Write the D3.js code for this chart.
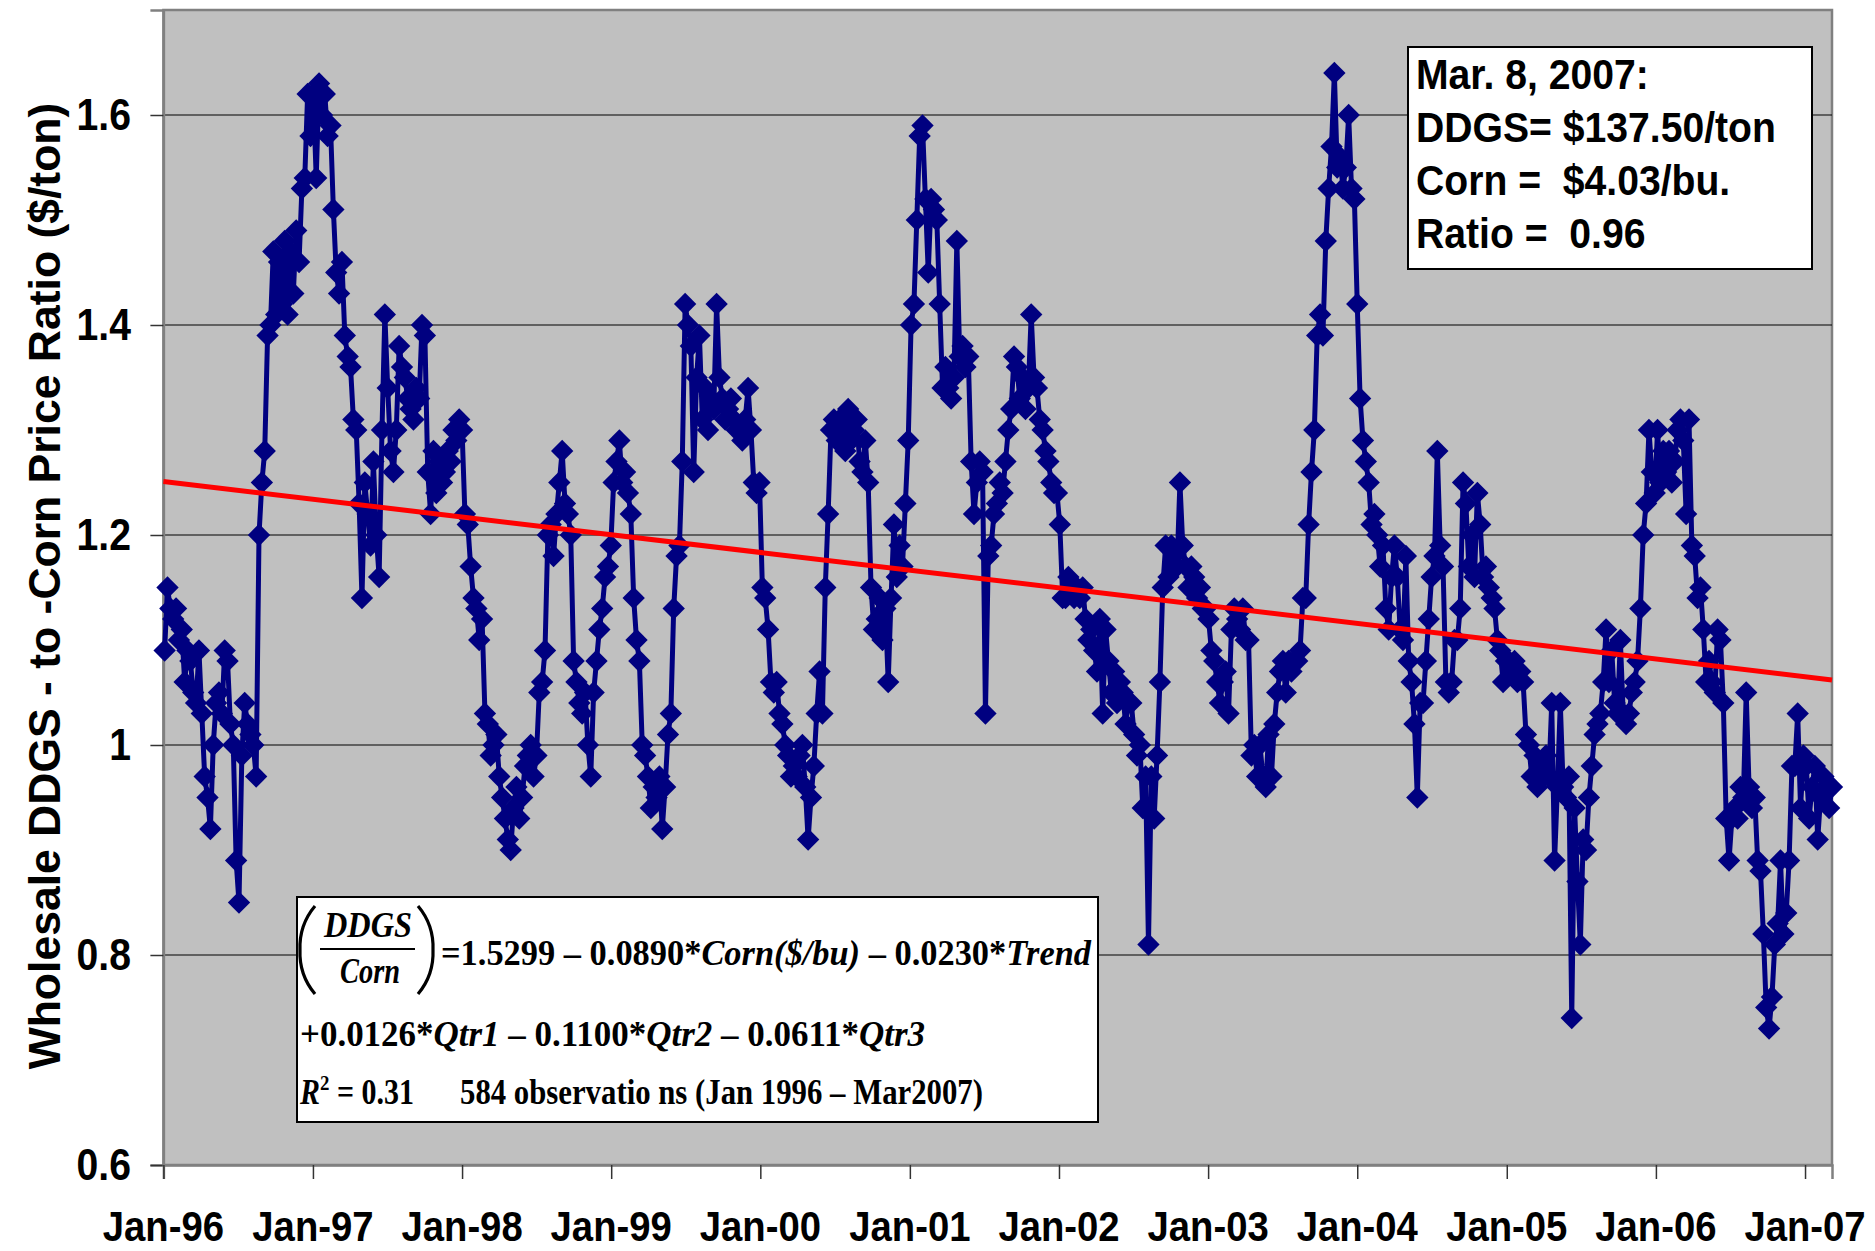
<!DOCTYPE html>
<html><head><meta charset="utf-8">
<script src="https://cdn.jsdelivr.net/npm/d3@7"></script>
<style>
body{margin:0;background:#fff}
svg{display:block}
text{font-family:"Liberation Sans",Arial,sans-serif;font-weight:bold;white-space:pre}
.eq{font-family:"Liberation Serif","Times New Roman",serif;font-weight:bold}
</style>
</head><body>
<svg id="chart" width="1875" height="1251"></svg>
<script>
// ---- data (weekly observations, Thursdays, Jan 4 1996 – Mar 8 2007) ----
const startDate = "1996-01-04";
const ratio1996 = [1.09,1.15,1.13,1.12,1.13,1.10,1.11,1.06,1.09,1.08,1.05,1.04,1.09,1.03,0.97,0.95,0.92,1.00,1.04,1.05,1.03,1.09,1.08,1.02,1.00,0.89,0.85,0.99,1.04,1.02,1.01,1.00,0.97,1.20,1.25,1.28,1.39,1.40,1.47,1.41,1.46,1.42,1.48,1.41,1.47,1.43,1.49,1.46,1.53,1.54,1.62,1.58];
const ratio1997 = [1.62,1.54,1.63,1.60,1.62,1.58,1.59,1.51,1.45,1.43,1.46,1.39,1.37,1.36,1.31,1.30,1.23,1.14,1.25,1.22,1.19,1.27,1.20,1.16,1.30,1.41,1.34,1.28,1.26,1.30,1.38,1.36,1.35,1.33,1.32,1.31,1.34,1.33,1.40,1.39,1.26,1.22,1.28,1.24,1.27,1.25,1.26,1.28,1.27,1.30,1.29,1.31];
const ratio1998 = [1.30,1.22,1.21,1.17,1.14,1.13,1.10,1.12,1.03,1.02,0.99,1.00,1.01,0.97,0.95,0.93,0.91,0.90,0.94,0.96,0.93,0.95,0.98,0.99,1.00,0.97,0.99,1.05,1.06,1.09,1.20,1.21,1.18,1.22,1.25,1.28,1.23,1.22,1.20,1.08,1.06,1.04,1.03,1.05,1.00,0.97,1.05,1.08,1.11,1.13,1.16,1.17,1.19];
const ratio1999 = [1.25,1.27,1.29,1.25,1.26,1.24,1.22,1.14,1.10,1.08,1.00,0.99,0.97,0.94,0.96,0.95,0.97,0.92,0.96,1.01,1.03,1.13,1.18,1.19,1.27,1.42,1.40,1.38,1.26,1.35,1.39,1.31,1.34,1.30,1.33,1.32,1.42,1.35,1.33,1.31,1.32,1.33,1.31,1.30,1.30,1.29,1.31,1.34,1.30,1.25,1.24,1.25];
const ratio2000 = [1.15,1.14,1.11,1.06,1.05,1.06,1.03,1.02,1.00,0.99,0.97,0.98,0.97,0.99,1.00,0.96,0.91,0.95,0.98,1.03,1.07,1.03,1.15,1.22,1.30,1.31,1.29,1.31,1.30,1.28,1.32,1.29,1.30,1.31,1.27,1.26,1.29,1.25,1.15,1.11,1.12,1.14,1.10,1.13,1.06,1.14,1.21,1.16,1.19,1.17,1.23,1.29];
const ratio2001 = [1.40,1.42,1.50,1.58,1.59,1.52,1.45,1.52,1.51,1.50,1.42,1.34,1.36,1.34,1.33,1.35,1.48,1.37,1.38,1.36,1.37,1.27,1.22,1.25,1.27,1.26,1.03,1.18,1.19,1.22,1.23,1.25,1.24,1.27,1.30,1.32,1.37,1.36,1.33,1.35,1.32,1.34,1.41,1.35,1.34,1.31,1.30,1.28,1.27,1.25,1.24,1.24];
const ratio2002 = [1.21,1.14,1.14,1.16,1.15,1.14,1.15,1.14,1.15,1.12,1.10,1.11,1.09,1.07,1.12,1.03,1.11,1.08,1.05,1.07,1.04,1.06,1.05,1.02,1.04,1.04,1.01,0.99,1.00,0.94,0.97,0.81,0.97,0.93,0.99,1.06,1.15,1.19,1.16,1.19,1.18,1.17,1.25,1.19,1.17,1.15,1.17,1.16,1.14,1.15,1.13,1.13];
const ratio2003 = [1.12,1.09,1.08,1.06,1.04,1.06,1.07,1.03,1.11,1.13,1.12,1.11,1.13,1.10,1.10,0.99,1.00,0.97,1.00,0.97,0.96,1.01,0.97,1.02,1.05,1.07,1.08,1.05,1.08,1.07,1.08,1.08,1.09,1.14,1.14,1.21,1.26,1.30,1.39,1.41,1.39,1.48,1.53,1.57,1.64,1.55,1.56,1.53,1.55,1.60,1.53,1.52];
const ratio2004 = [1.42,1.33,1.29,1.27,1.25,1.21,1.22,1.20,1.17,1.19,1.13,1.11,1.16,1.19,1.16,1.11,1.10,1.18,1.08,1.06,1.02,0.95,1.04,1.04,1.08,1.12,1.16,1.18,1.28,1.19,1.17,1.06,1.05,1.06,1.10,1.10,1.13,1.25,1.23,1.17,1.20,1.16,1.24,1.21,1.16,1.17,1.15,1.14,1.13,1.10,1.09,1.06,1.08];
const ratio2005 = [1.08,1.07,1.08,1.06,1.07,1.06,1.01,1.00,0.97,0.99,0.96,0.98,0.97,0.99,0.97,1.04,0.89,0.96,1.04,0.96,0.95,0.97,0.74,0.94,0.87,0.81,0.91,0.90,0.95,0.98,1.01,1.02,1.03,1.06,1.11,1.06,1.09,1.04,1.03,1.10,1.03,1.02,1.03,1.05,1.06,1.08,1.13,1.20,1.23,1.30,1.26,1.24];
const ratio2006 = [1.30,1.25,1.28,1.26,1.28,1.25,1.27,1.30,1.31,1.29,1.22,1.31,1.19,1.18,1.14,1.15,1.11,1.06,1.08,1.06,1.05,1.11,1.10,1.04,0.93,0.89,0.93,0.94,0.93,0.96,0.95,1.05,0.96,0.94,0.95,0.89,0.88,0.82,0.75,0.73,0.76,0.81,0.83,0.89,0.82,0.84,0.89,0.98,0.98,1.03,0.94,0.99];
const ratio2007 = [0.98,0.93,0.96,0.98,0.91,0.95,0.97,0.96,0.94,0.96];

const trendValues = [1.251, 1.062];          // linear trend at start and end of axis
const axisDates = ["1996-01-01", "2007-03-08"];
const yTicks = [0.6, 0.8, 1.0, 1.2, 1.4, 1.6];
const yTickLabels = ["0.6", "0.8", "1", "1.2", "1.4", "1.6"];
const xTickYears = [1996,1997,1998,1999,2000,2001,2002,2003,2004,2005,2006,2007];
const xTickLabels = ["Jan-96","Jan-97","Jan-98","Jan-99","Jan-00","Jan-01","Jan-02","Jan-03","Jan-04","Jan-05","Jan-06","Jan-07"];
const yTitle = "Wholesale DDGS - to -Corn Price Ratio ($/ton)";
const infoLines = ["Mar. 8, 2007:", "DDGS= $137.50/ton", "Corn =  $4.03/bu.", "Ratio =  0.96"];

// ---- build ----
const values = [].concat(ratio1996, ratio1997, ratio1998, ratio1999, ratio2000, ratio2001,
  ratio2002, ratio2003, ratio2004, ratio2005, ratio2006, ratio2007);
const parse = d3.utcParse("%Y-%m-%d");
const t0 = parse(startDate);
const data = values.map((v, i) => ({ date: d3.utcDay.offset(t0, 7 * i), v }));

const svg = d3.select("#chart");
const L = 163.4, R = 1832, T = 10, B = 1165;
const x = d3.scaleUtc().domain(axisDates.map(parse)).range([L, R]);
const y = d3.scaleLinear().domain([0.6, 1.7]).range([B, T]);

// plot area
svg.append("rect").attr("x", L).attr("y", T).attr("width", R - L).attr("height", B - T)
  .attr("fill", "#C0C0C0").attr("stroke", "#808080").attr("stroke-width", 2.5);

// gridlines
svg.append("g").selectAll("line").data(yTicks.filter(d => d > 0.6)).join("line")
  .attr("x1", L).attr("x2", R).attr("y1", d => y(d)).attr("y2", d => y(d))
  .attr("stroke", "#000").attr("stroke-width", 1.2);

// y axis
const yAxis = svg.append("g").attr("transform", `translate(${L},0)`)
  .call(d3.axisLeft(y).tickValues(yTicks).tickSize(13).tickFormat(""));
yAxis.select(".domain").attr("stroke", "#808080").attr("stroke-width", 2.5);
yAxis.selectAll(".tick line").attr("stroke", "#333").attr("stroke-width", 1.5);
svg.append("g").selectAll("text").data(yTicks).join("text")
  .attr("transform", d => `translate(131,${y(d) + 15}) scale(0.9,1)`)
  .attr("text-anchor", "end").attr("font-size", 43.5).attr("fill", "#000")
  .text((d, i) => yTickLabels[i]);

// x axis
const xTickDates = xTickYears.map(yr => new Date(Date.UTC(yr, 0, 1)));
const xAxis = svg.append("g").attr("transform", `translate(0,${B})`)
  .call(d3.axisBottom(x).tickValues(xTickDates).tickSize(14).tickFormat(""));
xAxis.select(".domain").attr("stroke", "#808080").attr("stroke-width", 2.5);
xAxis.selectAll(".tick line").attr("stroke", "#333").attr("stroke-width", 1.5);
svg.append("g").selectAll("text").data(xTickDates).join("text")
  .attr("transform", d => `translate(${x(d)},1241) scale(0.89,1)`)
  .attr("text-anchor", "middle").attr("font-size", 43).attr("fill", "#000")
  .text((d, i) => xTickLabels[i]);

// y title
svg.append("text").attr("transform", "translate(60,586) rotate(-90)")
  .attr("text-anchor", "middle").attr("font-size", 44.5).attr("fill", "#000").text(yTitle);

// series line
svg.append("path").datum(data)
  .attr("d", d3.line().x(d => x(d.date)).y(d => y(d.v)))
  .attr("fill", "none").attr("stroke", "#000080").attr("stroke-width", 5)
  .attr("stroke-linejoin", "round");

// diamond markers
const diamond = { draw(ctx, size) { const r = Math.sqrt(size / 2);
  ctx.moveTo(0, -r); ctx.lineTo(r, 0); ctx.lineTo(0, r); ctx.lineTo(-r, 0); ctx.closePath(); } };
svg.append("g").selectAll("path").data(data).join("path")
  .attr("d", d3.symbol().type(diamond).size(250))
  .attr("transform", d => `translate(${x(d.date)},${y(d.v)})`)
  .attr("fill", "#000080");

// trend line
svg.append("path").datum(axisDates.map((d, i) => ({ date: parse(d), v: trendValues[i] })))
  .attr("d", d3.line().x(d => x(d.date)).y(d => y(d.v)))
  .attr("fill", "none").attr("stroke", "#FF0000").attr("stroke-width", 5);

// info box
svg.append("rect").attr("x", 1408).attr("y", 47).attr("width", 404).attr("height", 222)
  .attr("fill", "#fff").attr("stroke", "#000").attr("stroke-width", 2);
const infoBase = [89, 142, 195, 248];
svg.append("g").selectAll("text").data(infoLines).join("text")
  .attr("transform", (d, i) => `translate(1416,${infoBase[i]}) scale(0.91,1)`)
  .attr("font-size", 43).attr("fill", "#000").text(d => d);

// equation box
const eq = svg.append("g");
eq.append("rect").attr("x", 297).attr("y", 897).attr("width", 801).attr("height", 225)
  .attr("fill", "#fff").attr("stroke", "#000").attr("stroke-width", 2);
// fraction
eq.append("text").attr("class", "eq").attr("x", 324).attr("y", 937).attr("font-size", 36)
  .attr("font-style", "italic").attr("textLength", 88).attr("lengthAdjust", "spacingAndGlyphs").text("DDGS");
eq.append("line").attr("x1", 320).attr("x2", 415).attr("y1", 949).attr("y2", 949)
  .attr("stroke", "#000").attr("stroke-width", 2.2);
eq.append("text").attr("class", "eq").attr("x", 340).attr("y", 983).attr("font-size", 36)
  .attr("font-style", "italic").attr("textLength", 60).attr("lengthAdjust", "spacingAndGlyphs").text("Corn");
eq.append("path").attr("d", "M315,906 Q299,925 300,950 Q299,975 315,994")
  .attr("fill", "none").attr("stroke", "#000").attr("stroke-width", 3.2);
eq.append("path").attr("d", "M418,906 Q434,925 433,950 Q434,975 418,994")
  .attr("fill", "none").attr("stroke", "#000").attr("stroke-width", 3.2);

function eqLine(xp, yp, len, parts) {
  const t = eq.append("text").attr("class", "eq").attr("x", xp).attr("y", yp)
    .attr("font-size", 35).attr("textLength", len).attr("lengthAdjust", "spacingAndGlyphs");
  parts.forEach(p => {
    const s = t.append("tspan").text(p[0]);
    if (p[1] === "i") s.attr("font-style", "italic");
    if (p[1] === "sup") s.attr("font-size", 22).attr("dy", -14);
    if (p[1] === "after") s.attr("dy", 14);
  });
}
eqLine(441, 965, 650, [["=1.5299 \u2013 0.0890*"], ["Corn($/bu)", "i"], [" \u2013 0.0230*"], ["Trend", "i"]]);
eqLine(300, 1046, 625, [["+0.0126*"], ["Qtr1", "i"], [" \u2013 0.1100*"], ["Qtr2", "i"], [" \u2013 0.0611*"], ["Qtr3", "i"]]);
eqLine(300, 1104, 114, [["R", "i"], ["2", "sup"], [" = 0.31", "after"]]);
eqLine(460, 1104, 523, [["584 observatio ns (Jan 1996 \u2013 Mar2007)"]]);
</script>
</body></html>
